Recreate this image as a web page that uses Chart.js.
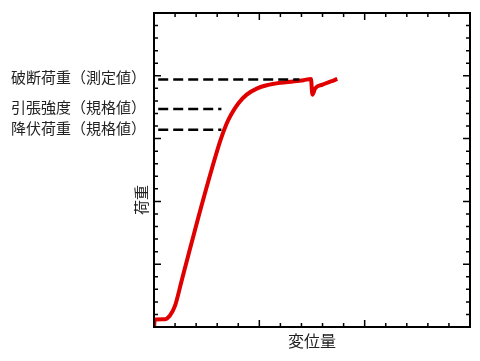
<!DOCTYPE html>
<html>
<head>
<meta charset="utf-8">
<script src="https://cdn.jsdelivr.net/npm/chart.js@4/dist/chart.umd.min.js"></script>
<style>
  html, body { margin: 0; padding: 0; background: #fff; }
  #wrap { width: 480px; height: 361px; }
</style>
</head>
<body>
<div id="wrap"><canvas id="loadChart"></canvas></div>
<script>
// load-displacement curve
const dispX = [0, 0.04, 0.5, 0.75, 1.0, 1.3, 1.61, 2.1, 2.73, 3.16, 3.45, 3.69, 4.0, 4.4, 4.9, 5.35, 6.0, 6.6, 7.1, 7.45, 7.52, 7.65, 8.0, 8.4, 8.7];
const loadY = [0, 0.6, 0.62, 0.9, 1.7, 3.6, 5.6, 8.7, 12.5, 14.9, 16.2, 17.0, 17.8, 18.5, 19.0, 19.25, 19.45, 19.55, 19.65, 19.75, 18.5, 19.0, 19.3, 19.55, 19.75];

// reference levels: label, load value, where the dash ends
const refLabels = ['破断荷重（測定値）', '引張強度（規格値）', '降伏荷重（規格値）'];
const refLoads = [19.7, 17.35, 15.7];
const refEnds = [6.9, 3.2, 3.2];

const xTitle = '変位量';
const yTitle = '荷重';

const refSets = refLoads.map((v, i) => ({
  data: [{ x: 0.2, y: v }, { x: refEnds[i], y: v }],
  borderColor: '#000',
  borderWidth: 2.5,
  borderDash: [10, 5],
  pointRadius: 0,
  fill: false
}));

const framePlugin = {
  id: 'frame',
  afterDraw(chart) {
    const { ctx, chartArea: a, scales } = chart;
    const xs = scales.x, ys = scales.y;
    ctx.save();
    ctx.strokeStyle = '#000';
    ctx.lineWidth = 2;
    ctx.strokeRect(a.left, a.top, a.right - a.left, a.bottom - a.top);

    // inward ticks on all sides
    ctx.lineWidth = 1.5;
    for (let v = 0; v <= 15; v++) {
      const px = xs.getPixelForValue(v);
      const len = v % 5 === 0 ? 7 : 4;
      ctx.beginPath();
      ctx.moveTo(px, a.bottom); ctx.lineTo(px, a.bottom - len);
      ctx.moveTo(px, a.top); ctx.lineTo(px, a.top + len);
      ctx.stroke();
    }
    for (let v = 0; v <= 25; v++) {
      const py = ys.getPixelForValue(v);
      const len = v % 5 === 0 ? 7 : 4;
      ctx.beginPath();
      ctx.moveTo(a.left, py); ctx.lineTo(a.left + len, py);
      ctx.moveTo(a.right, py); ctx.lineTo(a.right - len, py);
      ctx.stroke();
    }

    // labels for the dashed levels
    ctx.fillStyle = '#222';
    ctx.font = '15px "Noto Sans CJK JP", sans-serif';
    ctx.textAlign = 'left';
    ctx.textBaseline = 'middle';
    refLabels.forEach((t, i) => {
      ctx.fillText(t, 11, ys.getPixelForValue(refLoads[i]) - 2);
    });

    // y title, rotated
    ctx.translate(141, 200);
    ctx.rotate(-Math.PI / 2);
    ctx.textAlign = 'center';
    ctx.font = '15px "Noto Sans CJK JP", sans-serif';
    ctx.fillText(yTitle, 0, 0);
    ctx.restore();
  }
};

const ctx = document.getElementById('loadChart').getContext('2d');
new Chart(ctx, {
  type: 'line',
  data: {
    datasets: [
      ...refSets,
      {
        data: dispX.map((x, i) => ({ x, y: loadY[i] })),
        borderColor: '#e00000',
        borderWidth: 4,
        pointRadius: 0,
        cubicInterpolationMode: 'monotone',
        fill: false
      }
    ]
  },
  options: {
    responsive: true,
    maintainAspectRatio: false,
    animation: false,
    layout: { padding: { top: 13, right: 10, left: 0, bottom: 0 } },
    plugins: { legend: { display: false }, tooltip: { enabled: false } },
    scales: {
      x: {
        type: 'linear',
        min: 0,
        max: 15,
        grid: { display: false },
        border: { display: false },
        ticks: { display: false },
        title: {
          display: true,
          text: xTitle,
          color: '#222',
          font: { size: 16, family: '"Noto Sans CJK JP", sans-serif' },
          padding: { top: 0, bottom: 10 }
        },
        afterFit(s) { s.height = 34; }
      },
      y: {
        min: 0,
        max: 25,
        grid: { display: false },
        border: { display: false },
        ticks: { display: false },
        afterFit(s) { s.width = 154; }
      }
    }
  },
  plugins: [framePlugin]
});
</script>
</body>
</html>
